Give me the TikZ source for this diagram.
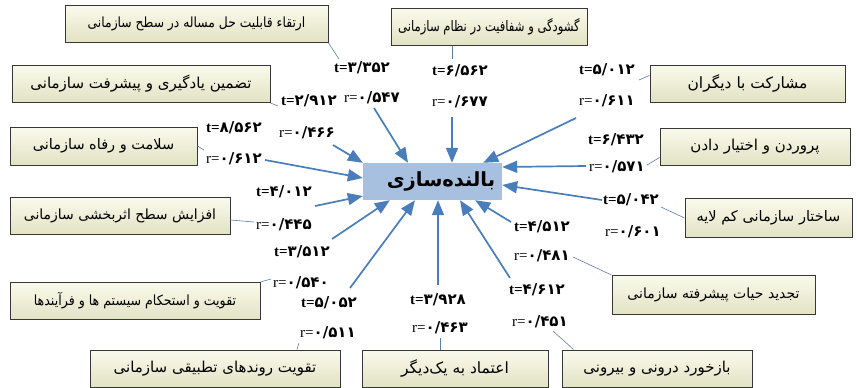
\documentclass[tikz,border=0pt]{standalone}
\usepackage{fontspec}
\usepackage{graphicx}
\setmainfont{Liberation Serif}
\newfontfamily\fa[Script=Arabic]{DejaVu Sans}
\TeXXeTstate=1
\usetikzlibrary{arrows.meta,calc}

\definecolor{arrowblue}{RGB}{74,126,187}
\definecolor{linkblue}{RGB}{95,125,165}
\definecolor{boxtop}{RGB}{250,250,236}
\definecolor{boxbot}{RGB}{226,226,196}
\definecolor{ctrfill}{RGB}{168,192,224}
\definecolor{boxedge}{RGB}{55,55,55}

\newcommand\fatxt[1]{\beginR #1\endR}
\newcommand\tval[1]{\textbf{t=}{\fa\bfseries #1}}
\newcommand\rval[1]{r={\fa\bfseries #1}}

\tikzset{
  factor/.style={draw=boxedge, line width=1pt, top color=boxtop, bottom color=boxbot,
    minimum height=37pt, inner sep=0pt},
  fs/.style={font=\fa\fontsize{#1}{#1}\selectfont},
  ctrbox/.style={fill=ctrfill, minimum width=139pt, minimum height=37pt, inner sep=0pt,
    font=\fa\bfseries\fontsize{19.5}{22}\selectfont},
  stat/.style={inner sep=1pt, font=\fontsize{15}{17}\selectfont},
  link/.style={draw=linkblue, line width=0.6pt},
  arr/.style={draw=arrowblue, line width=1.7pt, -{Triangle[length=15pt,width=12pt]}},
}

\begin{document}
\begin{tikzpicture}[x=1pt,y=-1pt]
\fill[white] (0,0) rectangle (857,388);
\useasboundingbox (0,0) rectangle (857,388);

% centre
\node[ctrbox] (ctr) at (432.5,181.5) {\hspace*{17pt}\fatxt{بالنده‌سازی}};

% factor boxes
\node[factor, fs=14, minimum width=263pt] (A) at (196.5,24) {\scalebox{0.88}[1]{\fatxt{ارتقاء قابلیت حل مساله در سطح سازمانی}}};
\node[factor, fs=14.5, minimum width=196pt] (B) at (489,26.5) {\scalebox{0.8}[1]{\fatxt{گشودگی و شفافیت در نظام سازمانی}}};
\node[factor, fs=15.5, minimum width=195pt] (C) at (747.5,83.5) {\fatxt{مشارکت با دیگران}};
\node[factor, fs=15, minimum width=258pt] (D) at (141,84) {\fatxt{تضمین یادگیری و پیشرفت سازمانی}};
\node[factor, fs=14.5, minimum width=187pt, minimum height=38pt] (E) at (103.5,146) {\fatxt{سلامت و رفاه سازمانی}};
\node[factor, fs=15, minimum width=190pt] (F) at (755,146.5) {\fatxt{پروردن و اختیار دادن}};
\node[factor, fs=14, minimum width=220pt] (G) at (120,216) {\fatxt{افزایش سطح اثربخشی سازمانی}};
\node[factor, fs=14.5, minimum width=167pt, minimum height=39pt] (H) at (768.5,218) {\fatxt{ساختار سازمانی کم لایه}};
\node[factor, fs=14, minimum width=250pt] (I) at (135,301) {\scalebox{0.9}[1]{\fatxt{تقویت و استحکام سیستم ها و فرآیندها}}};
\node[factor, fs=14, minimum width=203pt, minimum height=39pt] (J) at (713.5,295) {\fatxt{تجدید حیات پیشرفته سازمانی}};
\node[factor, fs=15, minimum width=250pt] (K) at (215,368.5) {\fatxt{تقویت روندهای تطبیقی سازمانی}};
\node[factor, fs=15.5, minimum width=186pt] (L) at (455,368.5) {\fatxt{اعتماد به یک‌دیگر}};
\node[factor, fs=15, minimum width=190pt] (M) at (657,368.5) {\fatxt{بازخورد درونی و بیرونی}};

% statistics
\node[stat] (tA) at (362,68) {\tval{۳/۳۵۲}};
\node[stat] (rA) at (372,98) {\rval{۰/۵۴۷}};
\node[stat] (tB) at (460,71) {\tval{۶/۵۶۲}};
\node[stat] (rB) at (460,102) {\rval{۰/۶۷۷}};
\node[stat] (tC) at (607,70) {\tval{۵/۰۱۲}};
\node[stat] (rC) at (607,101) {\rval{۰/۶۱۱}};
\node[stat] (tD) at (309,101) {\tval{۲/۹۱۲}};
\node[stat] (rD) at (307,133) {\rval{۰/۴۶۶}};
\node[stat] (tE) at (234,128) {\tval{۸/۵۶۲}};
\node[stat] (rE) at (234,159) {\rval{۰/۶۱۲}};
\node[stat] (tF) at (616,140) {\tval{۶/۴۳۲}};
\node[stat] (rF) at (617,167) {\rval{۰/۵۷۱}};
\node[stat] (tG) at (284,192) {\tval{۴/۰۱۲}};
\node[stat] (rG) at (284,225) {\rval{۰/۴۴۵}};
\node[stat] (tH) at (631,200) {\tval{۵/۰۴۲}};
\node[stat] (rH) at (633,232) {\rval{۰/۶۰۱}};
\node[stat] (tI) at (302,252) {\tval{۳/۵۱۲}};
\node[stat] (rI) at (301,283) {\rval{۰/۵۴۰}};
\node[stat] (tJ) at (542,227) {\tval{۴/۵۱۲}};
\node[stat] (rJ) at (542,256) {\rval{۰/۴۸۱}};
\node[stat] (tK) at (329,303) {\tval{۵/۰۵۲}};
\node[stat] (rK) at (328,333) {\rval{۰/۵۱۱}};
\node[stat] (tL) at (438,300) {\tval{۳/۹۲۸}};
\node[stat] (rL) at (440,328) {\rval{۰/۴۶۳}};
\node[stat] (tM) at (537,290) {\tval{۴/۶۱۲}};
\node[stat] (rM) at (540,322) {\rval{۰/۴۵۱}};

% thin links from boxes to their statistics
\coordinate (lA) at (339,59);
\coordinate (lB) at (452,59);
\coordinate (lC) at (639,80);
\coordinate (lD) at (278,106);
\coordinate (lE) at (204,150);
\coordinate (lF) at (647,165);
\coordinate (lG) at (254,222);
\coordinate (lH) at (661,207);
\coordinate (lI) at (271,279);
\coordinate (lJ) at (573,257);
\coordinate (lK) at (299,343);
\coordinate (lL) at (440,338);
\coordinate (lM) at (553,331);
\draw[link] (A.south east) -- (lA);
\draw[link] ([xshift=-37pt]B.south) -- (lB);
\draw[link] ([yshift=8pt]C.west) -- (lC);
\draw[link] (D.south east) -- (lD);
\draw[link] (E.east) -- (lE);
\draw[link] ([yshift=-11pt]F.west) -- (lF);
\draw[link] ([yshift=-4pt]G.east) -- (lG);
\draw[link] (H.west) -- (lH);
\draw[link] (I.north east) -- (lI);
\draw[link] (J.north west) -- (lJ);
\draw[link] ([xshift=82pt]K.north) -- (lK);
\draw[link] ([xshift=-15pt]L.north) -- (lL);
\draw[link] ([xshift=12pt]M.north west) -- (lM);

% arrows into the centre
\coordinate (sA) at (374,108);
\coordinate (sB) at (452,117);
\coordinate (sC) at (576,118);
\coordinate (sD) at (333,145);
\coordinate (sE) at (265,160);
\coordinate (sF) at (586,166);
\coordinate (sG) at (315,206);
\coordinate (sH) at (602,200);
\coordinate (sI) at (332,239);
\coordinate (sJ) at (511,222);
\coordinate (sK) at (350,288);
\coordinate (sL) at (438,285);
\coordinate (sM) at (510,278);
\draw[arr] (sA) -- ([xshift=-24.5pt]ctr.north);
\draw[arr] (sB) -- ([xshift=19.5pt]ctr.north);
\draw[arr] (sC) -- ([xshift=-19pt]ctr.north east);
\draw[arr] (sD) -- (ctr.north west);
\draw[arr] (sE) -- ([yshift=3.5pt]ctr.west);
\draw[arr] (sF) -- ([yshift=14.5pt]ctr.east);
\draw[arr] (sG) -- ([yshift=-14.5pt]ctr.west);
\draw[arr] (sH) -- ([yshift=-3.5pt]ctr.east);
\draw[arr] (sI) -- ([xshift=27pt]ctr.south west);
\draw[arr] (sJ) -- ([xshift=-27pt]ctr.south east);
\draw[arr] (sK) -- ([xshift=-17.5pt]ctr.south);
\draw[arr] (sL) -- ([xshift=5.5pt]ctr.south);
\draw[arr] (sM) -- ([xshift=27.5pt]ctr.south);
\end{tikzpicture}
\end{document}
